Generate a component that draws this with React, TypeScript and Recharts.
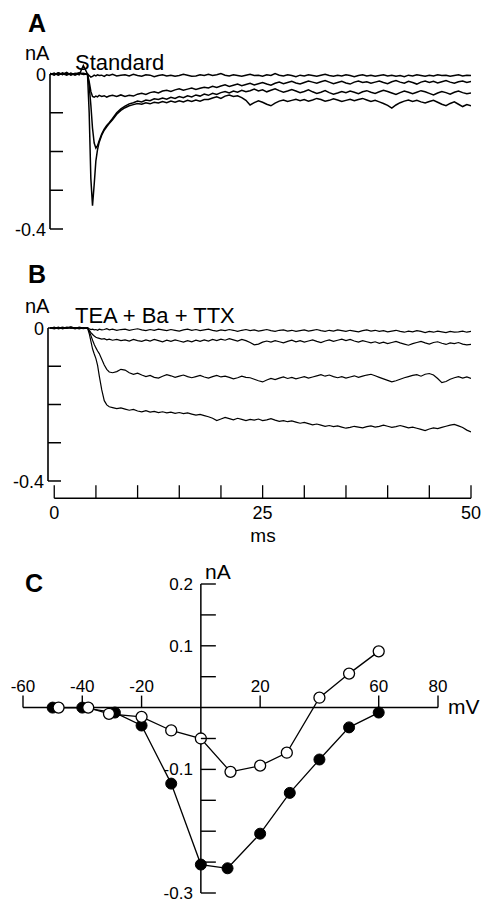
import React from 'react';
import { LineChart, Line, XAxis, YAxis, ReferenceLine } from 'recharts';

const FONT = "'Liberation Sans', Arial, Helvetica, sans-serif";

// ---------- Panels A & B: time axis (ms) ----------
const TIME_MS = [
  -0.5, 0, 0.5, 1, 1.5, 2, 2.5, 3, 3.5, 4,
  4.2, 4.4, 4.6, 4.8, 5, 5.2, 5.4, 5.7, 6, 6.3, 6.6, 7, 7.5, 8,
  8.5, 9, 9.5, 10, 10.5, 11, 11.5, 12, 12.5, 13,
  13.5, 14, 14.5, 15, 15.5, 16, 16.5, 17, 17.5, 18,
  18.5, 19, 19.5, 20, 20.5, 21, 21.5, 22, 22.5, 23,
  23.5, 24, 24.5, 25, 25.5, 26, 26.5, 27, 27.5, 28,
  28.5, 29, 29.5, 30, 30.5, 31, 31.5, 32, 32.5, 33,
  33.5, 34, 34.5, 35, 35.5, 36, 36.5, 37, 37.5, 38,
  38.5, 39, 39.5, 40, 40.5, 41, 41.5, 42, 42.5, 43,
  43.5, 44, 44.5, 45, 45.5, 46, 46.5, 47, 47.5, 48,
  48.5, 49, 49.5, 50,
];

// Panel A "Standard" currents (nA)
const A_TRACE_1 = [
  0.002, -0.003, 0.003, -0.002, 0.004, -0.003, 0.002, -0.002, 0.022, 0.0,
  -0.004, -0.008, -0.006, -0.003, -0.005, -0.002, -0.004, -0.003, -0.006, -0.002, -0.004, -0.001, -0.005, -0.003,
  -0.002, -0.005, -0.001, -0.004, -0.006, -0.002, -0.003, -0.007, -0.004, -0.002,
  -0.005, -0.003, -0.006, -0.004, -0.001, -0.003, -0.006, -0.005, -0.002, -0.004,
  -0.001, -0.004, -0.002, 0.001, -0.003, -0.005, -0.002, -0.004, -0.006, -0.003,
  -0.001, -0.004, -0.003, -0.006, -0.002, -0.004, 0.001, -0.003, -0.005, -0.002,
  -0.004, -0.007, -0.003, -0.005, -0.002, -0.004, -0.006, -0.003, -0.001, -0.004,
  -0.006, -0.003, -0.005, -0.002, -0.004, -0.007, -0.004, -0.002, -0.005, -0.003,
  -0.006, -0.004, -0.002, -0.005, -0.003, -0.006, -0.004, -0.007, -0.003, -0.005,
  -0.002, -0.004, -0.006, -0.003, -0.005, -0.002, -0.004, -0.003, -0.006, -0.004,
  -0.002, -0.005, -0.003, -0.004,
];
const A_TRACE_2 = [
  -0.002, 0.002, -0.003, 0.003, -0.001, 0.002, -0.003, 0.002, 0.0, -0.001,
  -0.02, -0.045, -0.058, -0.06, -0.057, -0.059, -0.055, -0.058, -0.056, -0.06, -0.057, -0.055, -0.058, -0.054,
  -0.058, -0.055, -0.057, -0.052, -0.05, -0.053, -0.048, -0.046, -0.049, -0.044,
  -0.042, -0.045, -0.041, -0.038, -0.042, -0.039, -0.036, -0.04, -0.037, -0.034,
  -0.036, -0.032, -0.035, -0.031, -0.028, -0.032, -0.029, -0.026, -0.03, -0.027,
  -0.024, -0.028, -0.025, -0.022, -0.026, -0.029, -0.024, -0.021, -0.025, -0.022,
  -0.019, -0.023, -0.026, -0.022, -0.018, -0.021, -0.024, -0.02, -0.017, -0.021,
  -0.025, -0.022, -0.019, -0.023, -0.026, -0.021, -0.018, -0.022, -0.02, -0.024,
  -0.021, -0.018, -0.022, -0.025, -0.02, -0.017, -0.021, -0.024, -0.019, -0.022,
  -0.026, -0.021, -0.018, -0.022, -0.019, -0.023, -0.02, -0.017, -0.021, -0.024,
  -0.02, -0.018, -0.022, -0.019,
];
const A_TRACE_3 = [
  0.001, -0.002, 0.003, -0.001, 0.002, -0.002, 0.001, 0.003, -0.001, 0.0,
  -0.03, -0.08, -0.14, -0.178, -0.191, -0.185, -0.172, -0.155, -0.142, -0.133, -0.126, -0.115, -0.1, -0.09,
  -0.083, -0.077, -0.074, -0.07, -0.072, -0.067, -0.069, -0.064, -0.066, -0.062,
  -0.065, -0.06, -0.063, -0.058, -0.061, -0.056, -0.059, -0.054, -0.057, -0.052,
  -0.055, -0.05, -0.053, -0.048, -0.045, -0.049, -0.044, -0.047, -0.042, -0.046,
  -0.043, -0.039, -0.044, -0.041, -0.046, -0.042, -0.038, -0.043, -0.047, -0.044,
  -0.04, -0.044, -0.048, -0.045, -0.041, -0.046, -0.05, -0.047, -0.043, -0.048,
  -0.052, -0.049, -0.045, -0.048, -0.044, -0.047, -0.051, -0.046, -0.043, -0.047,
  -0.05, -0.046, -0.042, -0.045, -0.049, -0.053, -0.048, -0.044, -0.047, -0.051,
  -0.047, -0.043, -0.046, -0.05, -0.054, -0.049, -0.045, -0.048, -0.052, -0.047,
  -0.044, -0.048, -0.051, -0.049,
];
const A_TRACE_4 = [
  -0.001, 0.002, -0.002, 0.001, -0.003, 0.002, -0.001, 0.001, 0.002, -0.001,
  -0.1, -0.27, -0.34, -0.285, -0.225, -0.195, -0.176, -0.158, -0.145, -0.136, -0.128, -0.118, -0.104, -0.094,
  -0.087, -0.082, -0.079, -0.076, -0.078, -0.074, -0.077, -0.073, -0.075, -0.071,
  -0.074, -0.07, -0.073, -0.069, -0.072, -0.068, -0.071, -0.067, -0.07, -0.066,
  -0.066, -0.062, -0.059, -0.063, -0.057, -0.054, -0.058, -0.056, -0.061, -0.068,
  -0.08, -0.074, -0.069, -0.073, -0.078, -0.082, -0.075, -0.07, -0.067, -0.071,
  -0.068, -0.065, -0.069, -0.066, -0.07, -0.067, -0.063, -0.066, -0.07, -0.068,
  -0.064, -0.067, -0.071, -0.068, -0.065, -0.069, -0.066, -0.063, -0.067, -0.071,
  -0.068, -0.072, -0.076, -0.081, -0.088, -0.08, -0.074, -0.07, -0.067, -0.071,
  -0.068, -0.072, -0.075, -0.071, -0.068, -0.073, -0.078, -0.082, -0.076, -0.072,
  -0.078, -0.084, -0.079, -0.082,
];

// Panel B "TEA + Ba + TTX" currents (nA)
const B_TRACE_1 = [
  0.001, -0.001, 0.002, -0.002, 0.001, 0.003, -0.001, 0.002, 0.0, 0.001,
  -0.002, -0.004, -0.003, -0.005, -0.004, -0.006, -0.003, -0.005, -0.004, -0.002, -0.005, -0.003, -0.006, -0.004,
  -0.003, -0.006, -0.004, -0.002, -0.005, -0.007, -0.004, -0.006, -0.003, -0.005,
  -0.007, -0.004, -0.006, -0.008, -0.005, -0.003, -0.006, -0.004, -0.007, -0.005,
  -0.003, -0.006, -0.008, -0.005, -0.007, -0.004, -0.006, -0.009, -0.006, -0.004,
  -0.007, -0.005, -0.008, -0.006, -0.004, -0.007, -0.009, -0.006, -0.005, -0.008,
  -0.006, -0.009, -0.007, -0.005, -0.008, -0.006, -0.004, -0.007, -0.009, -0.006,
  -0.008, -0.005, -0.007, -0.009, -0.006, -0.008, -0.01, -0.007, -0.005, -0.008,
  -0.006, -0.009, -0.007, -0.01, -0.008, -0.006, -0.009, -0.011, -0.008, -0.01,
  -0.007, -0.009, -0.012, -0.009, -0.011, -0.008, -0.01, -0.012, -0.009, -0.011,
  -0.01, -0.008, -0.011, -0.009,
];
const B_TRACE_2 = [
  -0.001, 0.002, -0.002, 0.001, -0.001, 0.002, 0.0, -0.002, 0.001, 0.0,
  -0.006, -0.012, -0.017, -0.021, -0.024, -0.026, -0.027, -0.029, -0.028, -0.031, -0.029, -0.032, -0.03, -0.033,
  -0.031, -0.034, -0.03, -0.033, -0.035, -0.031, -0.034, -0.03, -0.033, -0.036,
  -0.032, -0.035, -0.031, -0.034, -0.037, -0.033, -0.036, -0.032, -0.035, -0.031,
  -0.034, -0.03, -0.033, -0.029, -0.032, -0.028, -0.031, -0.034, -0.03, -0.033,
  -0.038, -0.044, -0.042, -0.037, -0.034, -0.037, -0.033, -0.036, -0.039, -0.035,
  -0.032, -0.036, -0.033, -0.037, -0.034, -0.031, -0.035, -0.038, -0.034, -0.031,
  -0.035, -0.032, -0.029, -0.033, -0.03, -0.034, -0.037, -0.033, -0.036, -0.039,
  -0.036, -0.04, -0.037, -0.041, -0.038, -0.035, -0.039, -0.042, -0.045, -0.041,
  -0.038, -0.035, -0.039, -0.042, -0.038, -0.036, -0.04, -0.043, -0.039, -0.041,
  -0.038, -0.042, -0.044, -0.043,
];
const B_TRACE_3 = [
  0.0, -0.002, 0.001, -0.001, 0.002, -0.001, 0.001, 0.0, -0.002, 0.0,
  -0.008, -0.02, -0.032, -0.043, -0.052, -0.06, -0.067, -0.082, -0.097, -0.108, -0.115, -0.117, -0.114, -0.108,
  -0.11, -0.117, -0.121, -0.118, -0.123, -0.127, -0.124, -0.129, -0.131, -0.126,
  -0.122, -0.125, -0.129, -0.126, -0.123, -0.127, -0.13, -0.127, -0.124, -0.128,
  -0.131, -0.127, -0.124, -0.128, -0.126, -0.129, -0.133, -0.13, -0.126, -0.129,
  -0.13, -0.134, -0.138, -0.141, -0.136, -0.132, -0.135, -0.131, -0.128, -0.132,
  -0.129, -0.133, -0.13, -0.127, -0.131, -0.128, -0.125, -0.122, -0.126, -0.123,
  -0.127, -0.13, -0.127, -0.131, -0.128, -0.125, -0.129, -0.126, -0.123, -0.121,
  -0.125, -0.129, -0.133, -0.137, -0.141, -0.138, -0.134, -0.13, -0.127, -0.124,
  -0.122, -0.126, -0.121, -0.119, -0.123, -0.132, -0.143, -0.14, -0.134, -0.13,
  -0.127, -0.131, -0.128, -0.132,
];
const B_TRACE_4 = [
  0.001, -0.001, 0.0, 0.002, -0.001, 0.001, -0.002, 0.001, 0.0, -0.001,
  -0.015, -0.035, -0.055, -0.068, -0.08, -0.098, -0.125, -0.162, -0.19, -0.201, -0.206, -0.208, -0.211, -0.209,
  -0.212, -0.215, -0.213, -0.217, -0.219, -0.216, -0.22, -0.218, -0.221, -0.219,
  -0.222, -0.22, -0.223, -0.221, -0.224, -0.222, -0.225, -0.228, -0.226, -0.229,
  -0.232, -0.236, -0.242, -0.238, -0.234, -0.237, -0.24, -0.236, -0.239, -0.242,
  -0.239, -0.241, -0.238, -0.242, -0.24, -0.237, -0.241, -0.244, -0.242, -0.245,
  -0.243, -0.246, -0.249, -0.247, -0.25, -0.253, -0.251, -0.254, -0.257, -0.255,
  -0.258, -0.256, -0.259, -0.262, -0.26, -0.257, -0.259, -0.261, -0.258, -0.256,
  -0.259, -0.257, -0.254, -0.257, -0.26, -0.258, -0.255, -0.258, -0.261, -0.259,
  -0.262, -0.265, -0.268, -0.264, -0.261, -0.263, -0.26, -0.257, -0.254, -0.252,
  -0.256, -0.26, -0.267, -0.272,
];

const TRACE_Y_TICKS = [0, -0.1, -0.2, -0.3, -0.4];
const TRACE_Y_LABELS = [0, -0.4];
const TIME_X_TICKS = [0, 5, 10, 15, 20, 25, 30, 35, 40, 45, 50];
const TIME_X_LABELS = [0, 25, 50];

// ---------- Panel C: I–V relation ----------
const IV_FILLED_MV = [-50, -40, -29, -20, -10, 0, 9, 20, 30, 40, 50, 60];
const IV_FILLED_NA = [0, 0, -0.008, -0.029, -0.123, -0.254, -0.26, -0.204, -0.138, -0.084, -0.032, -0.008];
const IV_OPEN_MV = [-48, -38, -31, -20, -10, 0, 10, 20, 29, 40, 50, 60];
const IV_OPEN_NA = [0, 0, -0.01, -0.015, -0.037, -0.05, -0.104, -0.094, -0.073, 0.016, 0.055, 0.091];
const IV_X_TICKS = [-60, -40, -20, 20, 60, 80];
const IV_Y_TICKS = [0.2, 0.15, 0.1, 0.05, -0.05, -0.1, -0.15, -0.2, -0.25, -0.3];
const IV_Y_LABELS = [0.2, 0.1, -0.1, -0.3];

// ---------- layout ----------
const W = 483;
const AXIS_W = 1; // axes need a non-zero band to be drawn
const A_BOX = { top: 0, height: 240 };
const A_MARGIN = { top: 58.5, right: 12, bottom: 11, left: 50 - AXIS_W };
const A_X_DOMAIN: [number, number] = [-0.5, 50];
const A_Y_DOMAIN: [number, number] = [-0.4, 0.04];

const B_BOX = { top: 250, height: 290 };
const B_MARGIN = { top: 62.7, right: 12, bottom: 41.8 - AXIS_W, left: 48 - AXIS_W };
const B_X_DOMAIN: [number, number] = [-0.75, 50];
const B_Y_DOMAIN: [number, number] = [-0.445, 0.04];

const C_BOX = { top: 560, height: 343 };
const C_PLOT = { top: 24, right: 45, bottom: 10, left: 23 };
const C_MARGIN = { top: C_PLOT.top, right: C_PLOT.right, bottom: C_PLOT.bottom - AXIS_W, left: C_PLOT.left - AXIS_W };
const C_X_DOMAIN: [number, number] = [-60, 80];
const C_Y_DOMAIN: [number, number] = [-0.3, 0.2];
const C_PLOT_W = W - C_PLOT.left - C_PLOT.right;
const C_PLOT_H = C_BOX.height - C_PLOT.top - C_PLOT.bottom;
const C_ZERO_Y = C_PLOT.top + (C_PLOT_H * C_Y_DOMAIN[1]) / (C_Y_DOMAIN[1] - C_Y_DOMAIN[0]);
const C_ZERO_X = C_PLOT.left + (C_PLOT_W * (0 - C_X_DOMAIN[0])) / (C_X_DOMAIN[1] - C_X_DOMAIN[0]);

const traceData = TIME_MS.map((t, i) => ({
  t,
  a1: A_TRACE_1[i],
  a2: A_TRACE_2[i],
  a3: A_TRACE_3[i],
  a4: A_TRACE_4[i],
  b1: B_TRACE_1[i],
  b2: B_TRACE_2[i],
  b3: B_TRACE_3[i],
  b4: B_TRACE_4[i],
}));

const filledData = IV_FILLED_MV.map((v, i) => ({ v, i: IV_FILLED_NA[i] }));
const openData = IV_OPEN_MV.map((v, i) => ({ v, i: IV_OPEN_NA[i] }));

const TraceYTick = (props: any) => {
  const { x, y, payload } = props;
  const v = payload.value;
  return (
    <g>
      <line x1={x} y1={y} x2={x + 13} y2={y} stroke="#000" strokeWidth={1.5} />
      {TRACE_Y_LABELS.includes(v) && (
        <text x={x - 4} y={y + 7} textAnchor="end" fontSize={18} fontFamily={FONT} fill="#000">
          {String(v)}
        </text>
      )}
    </g>
  );
};

const TimeXTick = (props: any) => {
  const { x, y, payload } = props;
  const v = payload.value;
  return (
    <g>
      <line x1={x} y1={y} x2={x} y2={y - 13} stroke="#000" strokeWidth={1.3} />
      {TIME_X_LABELS.includes(v) && (
        <text x={x} y={y + 21} textAnchor="middle" fontSize={18} fontFamily={FONT} fill="#000">
          {String(v)}
        </text>
      )}
    </g>
  );
};

const IvXTick = (props: any) => {
  const { x, payload } = props;
  const v = payload.value;
  return (
    <g>
      <line x1={x} y1={C_ZERO_Y} x2={x} y2={C_ZERO_Y - 12} stroke="#000" strokeWidth={1.4} />
      <text x={x} y={C_ZERO_Y - 16} textAnchor="middle" fontSize={17} fontFamily={FONT} fill="#000">
        {String(v)}
      </text>
    </g>
  );
};

const IvYTick = (props: any) => {
  const { y, payload } = props;
  const v = payload.value;
  return (
    <g>
      <line x1={C_ZERO_X} y1={y} x2={C_ZERO_X + 15} y2={y} stroke="#000" strokeWidth={1.4} />
      {IV_Y_LABELS.includes(v) && (
        <text x={C_ZERO_X - 8} y={y + 6} textAnchor="end" fontSize={17} fontFamily={FONT} fill="#000">
          {String(v)}
        </text>
      )}
    </g>
  );
};

const txt = (x: number, y: number, s: string, size: number, bold = false, anchor: any = 'start') => (
  <text x={x} y={y} fontSize={size} fontFamily={FONT} fontWeight={bold ? 'bold' : 'normal'} textAnchor={anchor} fill="#000">
    {s}
  </text>
);

export default function App() {
  return (
    <div style={{ position: 'absolute', left: 0, top: 0, width: W, height: 903, background: '#fff', overflow: 'hidden' }}>
      {/* Panel A */}
      <div style={{ position: 'absolute', left: 0, top: A_BOX.top }}>
        <LineChart width={W} height={A_BOX.height} data={traceData} margin={A_MARGIN}>
          <XAxis type="number" dataKey="t" domain={A_X_DOMAIN} allowDataOverflow hide />
          <YAxis
            type="number"
            domain={A_Y_DOMAIN}
            allowDataOverflow
            width={AXIS_W}
            ticks={TRACE_Y_TICKS}
            interval={0}
            axisLine={false}
            tickLine={false}
            tickSize={0}
            tickMargin={0}
            tick={<TraceYTick />}
          />
          <ReferenceLine
            segment={[{ x: A_X_DOMAIN[0], y: 0 }, { x: A_X_DOMAIN[0], y: -0.4 }]}
            stroke="#000"
            strokeWidth={1.6}
            ifOverflow="visible"
          />
          <Line dataKey="a4" stroke="#000" strokeWidth={1.5} dot={false} isAnimationActive={false} />
          <Line dataKey="a3" stroke="#000" strokeWidth={1.5} dot={false} isAnimationActive={false} />
          <Line dataKey="a2" stroke="#000" strokeWidth={1.5} dot={false} isAnimationActive={false} />
          <Line dataKey="a1" stroke="#000" strokeWidth={1.5} dot={false} isAnimationActive={false} />
        </LineChart>
      </div>

      {/* Panel B */}
      <div style={{ position: 'absolute', left: 0, top: B_BOX.top }}>
        <LineChart width={W} height={B_BOX.height} data={traceData} margin={B_MARGIN}>
          <XAxis
            type="number"
            dataKey="t"
            domain={B_X_DOMAIN}
            allowDataOverflow
            height={AXIS_W}
            ticks={TIME_X_TICKS}
            interval={0}
            axisLine={false}
            tickLine={false}
            tickSize={0}
            tickMargin={0}
            tick={<TimeXTick />}
          />
          <YAxis
            type="number"
            domain={B_Y_DOMAIN}
            allowDataOverflow
            width={AXIS_W}
            ticks={TRACE_Y_TICKS}
            interval={0}
            axisLine={false}
            tickLine={false}
            tickSize={0}
            tickMargin={0}
            tick={<TraceYTick />}
          />
          <ReferenceLine
            segment={[{ x: B_X_DOMAIN[0], y: 0 }, { x: B_X_DOMAIN[0], y: -0.4 }]}
            stroke="#000"
            strokeWidth={1.6}
            ifOverflow="visible"
          />
          <ReferenceLine
            segment={[{ x: 0, y: B_Y_DOMAIN[0] }, { x: 50, y: B_Y_DOMAIN[0] }]}
            stroke="#000"
            strokeWidth={1.6}
            ifOverflow="visible"
          />
          <Line dataKey="b4" stroke="#000" strokeWidth={1.2} dot={false} isAnimationActive={false} />
          <Line dataKey="b3" stroke="#000" strokeWidth={1.2} dot={false} isAnimationActive={false} />
          <Line dataKey="b2" stroke="#000" strokeWidth={1.2} dot={false} isAnimationActive={false} />
          <Line dataKey="b1" stroke="#000" strokeWidth={1.2} dot={false} isAnimationActive={false} />
        </LineChart>
      </div>

      {/* Panel C */}
      <div style={{ position: 'absolute', left: 0, top: C_BOX.top }}>
        <LineChart width={W} height={C_BOX.height} margin={C_MARGIN}>
          <XAxis
            type="number"
            dataKey="v"
            domain={C_X_DOMAIN}
            allowDataOverflow
            height={AXIS_W}
            ticks={IV_X_TICKS}
            interval={0}
            axisLine={false}
            tickLine={false}
            tickSize={0}
            tickMargin={0}
            tick={<IvXTick />}
          />
          <YAxis
            type="number"
            dataKey="i"
            domain={C_Y_DOMAIN}
            allowDataOverflow
            width={AXIS_W}
            ticks={IV_Y_TICKS}
            interval={0}
            axisLine={false}
            tickLine={false}
            tickSize={0}
            tickMargin={0}
            tick={<IvYTick />}
          />
          <ReferenceLine y={0} stroke="#000" strokeWidth={1.5} ifOverflow="visible" />
          <ReferenceLine x={0} stroke="#000" strokeWidth={1.5} ifOverflow="visible" />
          <Line
            data={filledData}
            dataKey="i"
            stroke="#000"
            strokeWidth={1.3}
            dot={{ r: 5.5, fill: '#000', stroke: '#000', strokeWidth: 1 }}
            isAnimationActive={false}
          />
          <Line
            data={openData}
            dataKey="i"
            stroke="#000"
            strokeWidth={1.3}
            dot={{ r: 5.5, fill: '#fff', stroke: '#000', strokeWidth: 1.3 }}
            isAnimationActive={false}
          />
        </LineChart>
      </div>

      {/* free labels */}
      <svg width={W} height={903} style={{ position: 'absolute', left: 0, top: 0, pointerEvents: 'none' }}>
        {txt(28, 32, 'A', 25, true)}
        {txt(25, 60, 'nA', 20)}
        {txt(75, 70, 'Standard', 22)}
        {txt(28, 283, 'B', 25, true)}
        {txt(25, 313, 'nA', 20)}
        {txt(75, 323, 'TEA + Ba + TTX', 22)}
        {txt(263, 542, 'ms', 19, false, 'middle')}
        {txt(25, 592, 'C', 25, true)}
        {txt(205, 579, 'nA', 21)}
        {txt(448, 714, 'mV', 21)}
      </svg>
    </div>
  );
}
